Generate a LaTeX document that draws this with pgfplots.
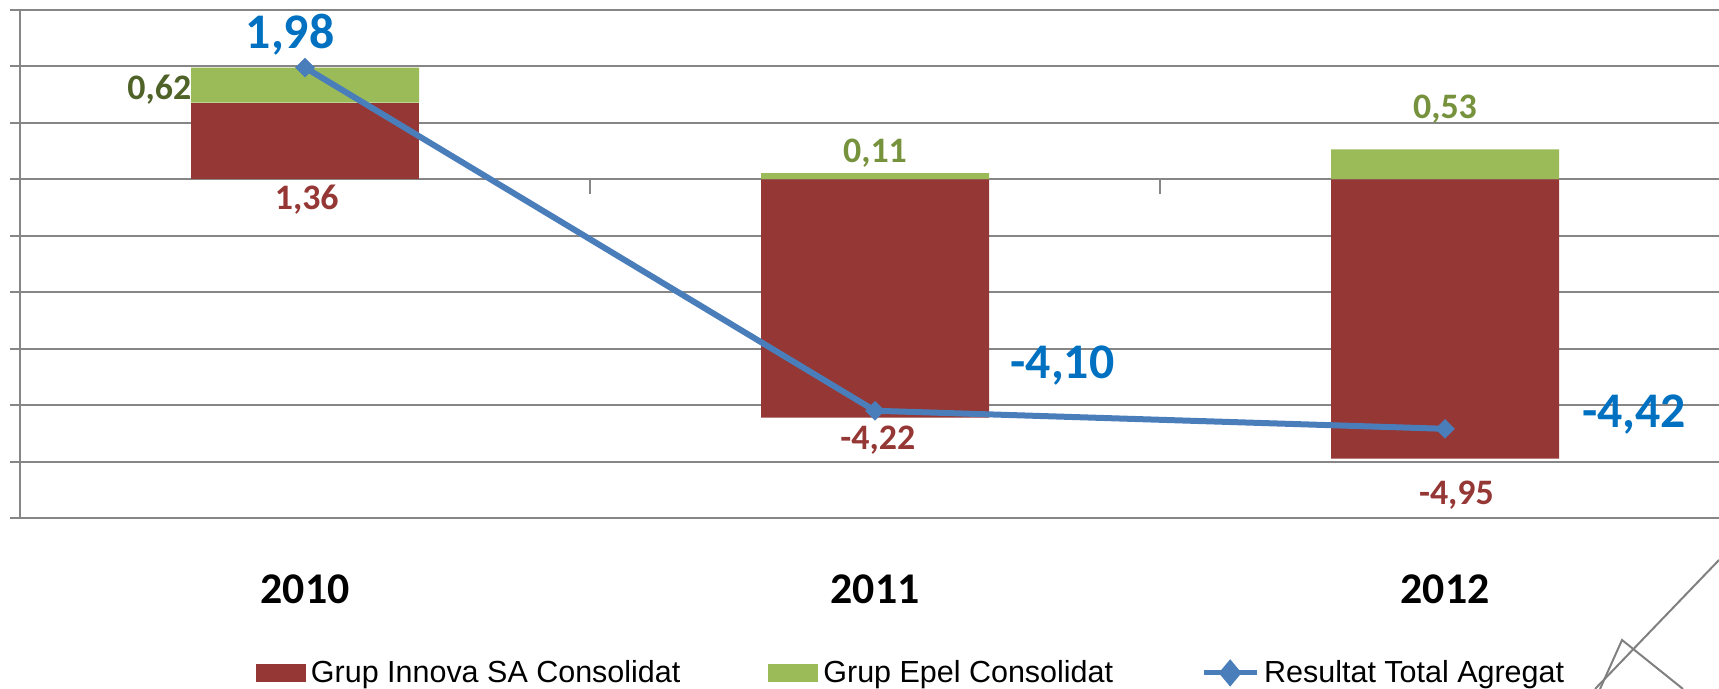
\documentclass[border=0pt]{standalone}
\usepackage{pgfplots}
\pgfplotsset{compat=1.18}
\usepackage{fontspec}
\setmainfont{Carlito}
\newfontfamily\legfont{Liberation Sans}
\definecolor{innova}{RGB}{149,55,53}
\definecolor{epel}{RGB}{155,187,89}
\definecolor{lineblue}{RGB}{74,126,187}
\definecolor{labblue}{RGB}{0,112,192}
\definecolor{olive}{RGB}{79,98,40}
\definecolor{epellab}{RGB}{118,146,60}
\definecolor{gridgray}{RGB}{134,134,134}
\definecolor{decogray}{RGB}{128,128,128}
\begin{document}
\begin{tikzpicture}
\useasboundingbox (0,0) rectangle (859.5bp,344.5bp);
\begin{axis}[
  at={(10bp,85.5bp)}, anchor=south west,
  scale only axis, width=855bp, height=254bp,
  xmin=-0.5, xmax=2.5, ymin=-6, ymax=3,
  ybar stacked, bar width=0.4,
  reverse stacked plots=false,
  clip=false,
  axis lines*=left,
  axis line style={draw=gridgray, line width=1bp, -},
  ytick={-6,-5,...,3}, yticklabels={},
  ytick pos=left,
  ymajorgrids,
  grid style={draw=gridgray, line width=1bp},
  tick align=outside,
  major tick length=5bp,
  y tick style={draw=gridgray, line width=1bp},
  xtick={0,1,2}, xticklabels={2010,2011,2012},
  x tick style={draw=none},
  xticklabel style={anchor=base, yshift=-37.5bp, font=\fontsize{22}{26}\selectfont\bfseries},
  legend style={at={(0.5205,-0.305)}, anchor=center, draw=none, fill=none,
    inner sep=0pt, legend columns=3,
    font=\legfont\fontsize{15.3}{18}\selectfont,
    nodes={inner sep=0pt},
    /tikz/every odd column/.append style={column sep=2.5bp},
    /tikz/every even column/.append style={column sep=44bp}},
]
\addplot[fill=innova, draw=none,
  legend image code/.code={\fill[innova] (0bp,-4.5bp) rectangle (25bp,4.5bp);}]
  coordinates {(0,1.36) (1,0) (2,0)};
\addlegendentry{Grup Innova SA Consolidat}
\addplot[fill=epel, draw=none,
  legend image code/.code={\fill[epel] (0bp,-4.5bp) rectangle (25bp,4.5bp);}]
  coordinates {(0,0.62) (1,0.11) (2,0.53)};
\addlegendentry{Grup Epel Consolidat}
\addplot[fill=innova, draw=none, forget plot, stack plots=false]
  coordinates {(1,-4.22) (2,-4.95)};
\addplot[stack plots=false, sharp plot, draw=lineblue, line width=3bp,
  mark=square*, mark size=3.3bp,
  mark options={fill=lineblue, draw=lineblue, line width=0.3bp, rotate=45},
  legend image code/.code={\draw[lineblue, line width=2.5bp] (0bp,0bp) -- (26.5bp,0bp);
    \fill[lineblue] (13.25bp,4.5bp) -- (17bp,0bp) -- (13.25bp,-4.5bp) -- (9.5bp,0bp) -- cycle;}]
  coordinates {(0,1.98) (1,-4.10) (2,-4.42)};
\addlegendentry{Resultat Total Agregat}
% category boundary ticks on the zero line
\draw[gridgray, line width=1bp] (axis cs:0.5,0) -- ([yshift=-7.5bp]axis cs:0.5,0);
\draw[gridgray, line width=1bp] (axis cs:1.5,0) -- ([yshift=-7.5bp]axis cs:1.5,0);
% data labels
\node[anchor=base, text=labblue, font=\fontsize{25}{30}\selectfont\bfseries] at (axis cs:-0.026,2.31) {1,98};
\node[anchor=base, text=labblue, font=\fontsize{25}{30}\selectfont\bfseries] at (axis cs:1.329,-3.53) {-4,10};
\node[anchor=base, text=labblue, font=\fontsize{25}{30}\selectfont\bfseries] at (axis cs:2.332,-4.40) {-4,42};
\node[anchor=base east, inner sep=0pt, text=olive, font=\fontsize{18}{22}\selectfont\bfseries] at (axis cs:-0.199,1.41) {0,62};
\node[anchor=base, text=innova, font=\fontsize{18}{22}\selectfont\bfseries] at (axis cs:0.003,-0.53) {1,36};
\node[anchor=base, text=epellab, font=\fontsize{18}{22}\selectfont\bfseries] at (axis cs:1,0.30) {0,11};
\node[anchor=base, text=epellab, font=\fontsize{18}{22}\selectfont\bfseries] at (axis cs:2,1.07) {0,53};
\node[anchor=base, text=innova, font=\fontsize{18}{22}\selectfont\bfseries] at (axis cs:1.005,-4.79) {-4,22};
\node[anchor=base, text=innova, font=\fontsize{18}{22}\selectfont\bfseries] at (axis cs:2.02,-5.76) {-4,95};
\end{axis}
% decorative slide lines
\draw[decogray, line width=1bp] (859.5bp,64.5bp) -- (797.5bp,0bp);
\draw[decogray, line width=1bp] (800bp,0bp) -- (811bp,24.5bp) -- (841.5bp,0bp);
\end{tikzpicture}
\end{document}
